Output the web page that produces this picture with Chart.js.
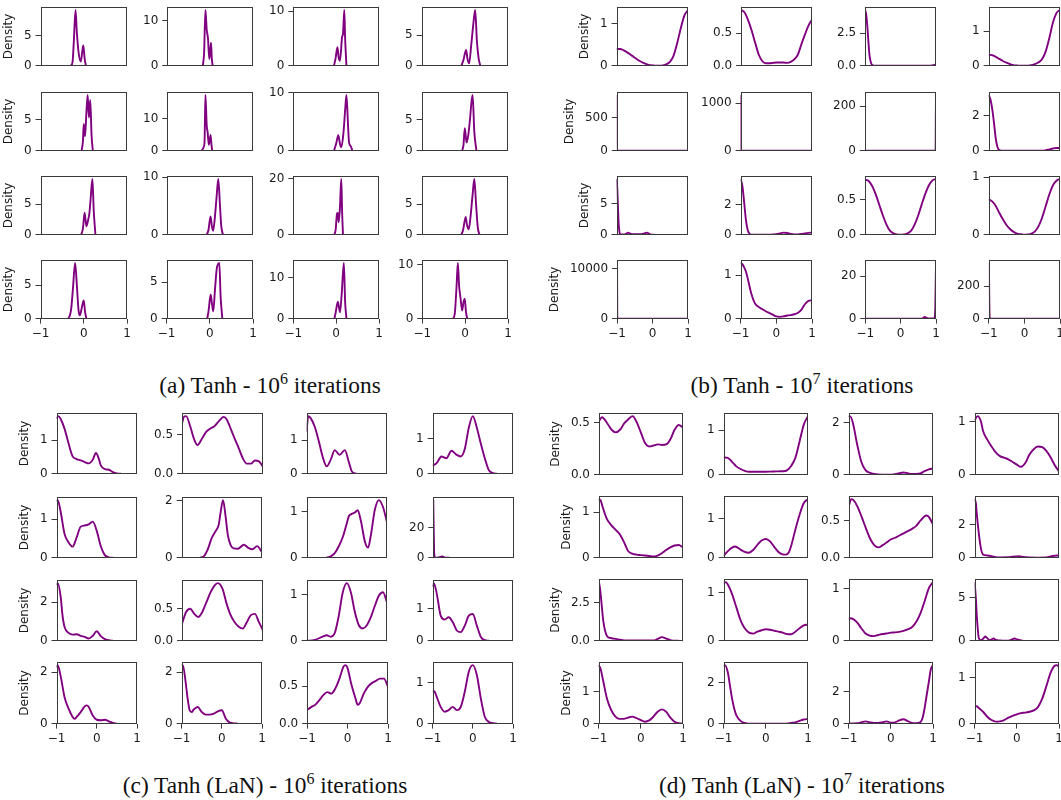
<!DOCTYPE html>
<html>
<head>
<meta charset="utf-8">
<script src="https://cdn.jsdelivr.net/npm/chart.js@4.4.0/dist/chart.umd.min.js"></script>
<style>
  body { margin: 0; background: #fff; width: 1061px; height: 800px; position: relative; overflow: hidden; }
  .cell { position: absolute; }
  .cap { position: absolute; font-family: 'Liberation Serif', 'Times New Roman', serif; font-size: 23.4px;
         line-height: 23.4px; white-space: nowrap; transform: translateX(-50%); color: #111; }
  .cap sup { font-size: 16px; vertical-align: baseline; position: relative; top: -9px; }
</style>
</head>
<body>
<script>
// x positions for curves written as plain lists of 21 densities
const GRID = [-1,-0.9,-0.8,-0.7,-0.6,-0.5,-0.4,-0.3,-0.2,-0.1,0,0.1,0.2,0.3,0.4,0.5,0.6,0.7,0.8,0.9,1];
const X_TICKS = [-1, 0, 1];

// (a) Tanh - 1e6 iterations, row by row
const A_CURVES = [
  [[-0.3,0],[-0.26,0.6],[-0.23,4],[-0.19,9.2],[-0.16,5.5],[-0.12,2.2],[-0.07,0.7],[-0.03,2.6],[-0.01,3.35],[0.02,1.2],[0.05,0]],
  [[-0.17,0],[-0.14,3],[-0.11,12.3],[-0.08,8],[-0.05,6],[-0.02,1.5],[0,3],[0.02,5.1],[0.04,1.5],[0.06,0]],
  [[-0.05,0],[-0.01,1.5],[0.03,3.4],[0.06,1.5],[0.09,0.9],[0.14,5.3],[0.16,5.8],[0.19,10.2],[0.21,5],[0.24,0]],
  [[-0.08,0],[-0.03,1],[0.03,2.6],[0.06,1.2],[0.1,0.4],[0.15,3.5],[0.2,7],[0.24,9.1],[0.28,4],[0.32,1.2],[0.36,0]],
  [[-0.05,0],[-0.02,1.5],[0,4.3],[0.03,2.3],[0.06,6],[0.09,8.9],[0.12,5.3],[0.15,8.1],[0.18,2.5],[0.21,0]],
  [[-0.2,0],[-0.15,1.2],[-0.13,3],[-0.11,17.5],[-0.08,8],[-0.06,6],[-0.03,1.9],[0.01,5],[0.03,2],[0.05,0]],
  [[-0.05,0],[0,1.2],[0.05,2.7],[0.09,1.2],[0.12,0.6],[0.17,3],[0.21,7],[0.24,9.6],[0.28,4],[0.3,1.5],[0.34,0.8],[0.38,0]],
  [[-0.06,0],[-0.03,1],[0,3.6],[0.04,1.3],[0.08,2.5],[0.12,5],[0.15,7.5],[0.18,8.9],[0.22,3],[0.27,0]],
  [[-0.06,0],[-0.02,1],[0.02,3.6],[0.06,1.4],[0.1,2.4],[0.13,3.5],[0.16,6],[0.2,9.1],[0.23,4],[0.27,0]],
  [[-0.08,0],[-0.04,0.8],[0.01,3.2],[0.04,1.5],[0.07,0.7],[0.11,3],[0.15,6.5],[0.19,9.7],[0.23,5],[0.26,1.5],[0.3,0]],
  [[-0.04,0],[-0.01,2],[0.02,7.5],[0.04,7.8],[0.06,4.5],[0.09,10],[0.12,20],[0.14,8],[0.16,0]],
  [[-0.08,0],[-0.04,0.8],[0.02,2.9],[0.05,1.6],[0.09,0.9],[0.13,2.8],[0.18,6.5],[0.22,9.1],[0.26,5],[0.3,1.2],[0.34,0]],
  [[-0.36,0],[-0.32,0.5],[-0.29,1.5],[-0.25,4.5],[-0.2,8.3],[-0.16,5],[-0.12,1.2],[-0.09,0.5],[-0.04,1.8],[0,2.7],[0.03,1],[0.06,0]],
  [[-0.06,0],[-0.03,1],[0.02,3.3],[0.05,2],[0.08,1],[0.12,4],[0.16,6.8],[0.22,7.6],[0.25,3],[0.29,0]],
  [[-0.04,0],[-0.01,1.5],[0.04,4.1],[0.07,2.5],[0.09,1.5],[0.13,6],[0.18,13.5],[0.21,4],[0.24,0]],
  [[-0.28,0],[-0.24,1],[-0.2,6],[-0.17,10.3],[-0.14,6],[-0.11,4],[-0.07,1.5],[-0.04,3],[-0.01,3.7],[0.02,1.2],[0.05,0]]
];
const A_STEPS = [5,10,10,5, 5,10,10,5, 5,10,20,5, 5,5,10,10];

// (b) Tanh - 1e7 iterations
const B_CURVES = [
  [0.40,0.40,0.37,0.32,0.26,0.20,0.14,0.09,0.05,0.02,0.01,0,0,0.01,0.04,0.1,0.25,0.55,0.9,1.2,1.33],
  [0.86,0.82,0.70,0.54,0.35,0.17,0.07,0.04,0.04,0.045,0.05,0.05,0.05,0.045,0.06,0.1,0.17,0.33,0.48,0.62,0.71],
  [[-1,4.3],[-0.97,4],[-0.93,2.8],[-0.9,1.6],[-0.87,0.7],[-0.83,0.2],[-0.78,0.03],[-0.7,0],[0.85,0],[0.93,0.04],[1,0.12]],
  [0.32,0.31,0.26,0.2,0.14,0.09,0.05,0.02,0.01,0,0,0.005,0.02,0.05,0.1,0.2,0.42,0.8,1.25,1.53,1.62],
  [[-1,838],[-0.995,200],[-0.99,0],[1,0]],
  [[-1,1170],[-0.995,150],[-0.99,0],[1,0]],
  [[-1,0],[0.99,0],[0.995,150],[1,251]],
  [[-1,3.2],[-0.95,2.95],[-0.9,2.4],[-0.85,1.6],[-0.8,0.7],[-0.75,0.2],[-0.7,0.04],[-0.6,0],[0.5,0],[0.6,0.03],[0.7,0.08],[0.8,0.13],[0.9,0.16],[1,0.16]],
  [[-1,8.9],[-0.98,7.5],[-0.96,4.5],[-0.94,1.8],[-0.92,0.5],[-0.9,0.1],[-0.85,0.05],[-0.75,0.1],[-0.68,0.35],[-0.6,0.15],[-0.5,0.08],[-0.4,0.08],[-0.3,0.1],[-0.2,0.25],[-0.15,0.35],[-0.1,0.2],[-0.05,0.08],[0,0.02],[0.05,0]],
  [[-1,3.67],[-0.95,3.2],[-0.9,2.1],[-0.85,0.95],[-0.8,0.3],[-0.75,0.07],[-0.7,0.01],[-0.5,0],[-0.2,0.01],[0,0.04],[0.1,0.09],[0.2,0.14],[0.3,0.12],[0.4,0.06],[0.5,0.03],[0.6,0.03],[0.7,0.05],[0.8,0.09],[0.9,0.13],[1,0.15]],
  [0.79,0.77,0.7,0.58,0.43,0.28,0.15,0.06,0.02,0.005,0,0.005,0.02,0.06,0.15,0.28,0.44,0.59,0.71,0.78,0.8],
  [0.62,0.58,0.5,0.38,0.27,0.17,0.1,0.05,0.02,0.01,0,0.005,0.02,0.06,0.15,0.3,0.5,0.7,0.86,0.94,0.97],
  [[-1,11200],[-0.995,1000],[-0.99,0],[1,0]],
  [[-1,1.28],[-0.95,1.25],[-0.9,1.18],[-0.85,1.08],[-0.8,0.92],[-0.75,0.74],[-0.7,0.57],[-0.6,0.35],[-0.5,0.27],[-0.4,0.22],[-0.3,0.17],[-0.2,0.13],[-0.1,0.09],[0,0.05],[0.1,0.04],[0.2,0.05],[0.3,0.07],[0.4,0.08],[0.5,0.1],[0.6,0.13],[0.7,0.2],[0.8,0.33],[0.9,0.41],[1,0.42]],
  [[-1,0],[0.6,0],[0.65,0.5],[0.68,0.8],[0.72,0.5],[0.8,0.1],[0.9,0.1],[0.95,0.3],[0.98,5],[1,26.3]],
  [[-1,345],[-0.98,10],[-0.96,0],[1,0]]
];
const B_STEPS = [1,0.5,2.5,1, 500,1000,200,2, 5,2,0.5,1, 10000,1,20,200];

// (c) Tanh (LaN) - 1e6 iterations
const C_CURVES = [
  [[-1,1.64],[-0.96,1.72],[-0.9,1.64],[-0.8,1.34],[-0.7,0.9],[-0.6,0.52],[-0.5,0.44],[-0.4,0.4],[-0.3,0.35],[-0.2,0.31],[-0.1,0.42],[-0.02,0.62],[0.05,0.45],[0.1,0.25],[0.2,0.14],[0.3,0.12],[0.4,0.05],[0.5,0.01],[0.6,0]],
  [[-1,0.65],[-0.95,0.735],[-0.9,0.74],[-0.8,0.61],[-0.7,0.44],[-0.62,0.37],[-0.5,0.46],[-0.4,0.54],[-0.3,0.58],[-0.2,0.61],[-0.1,0.67],[0.03,0.73],[0.1,0.7],[0.2,0.58],[0.3,0.45],[0.4,0.33],[0.5,0.2],[0.6,0.13],[0.7,0.13],[0.8,0.17],[0.9,0.16],[1,0.09]],
  [[-1,1.25],[-0.96,1.71],[-0.9,1.65],[-0.8,1.4],[-0.7,0.98],[-0.6,0.5],[-0.5,0.22],[-0.4,0.42],[-0.3,0.7],[-0.18,0.56],[-0.05,0.7],[0.05,0.35],[0.12,0.08],[0.2,0.01],[0.25,0]],
  [[-1,0.23],[-0.9,0.3],[-0.78,0.49],[-0.66,0.44],[-0.53,0.65],[-0.42,0.55],[-0.3,0.49],[-0.2,0.7],[-0.1,1.3],[0,1.63],[0.1,1.3],[0.2,0.85],[0.3,0.43],[0.4,0.1],[0.5,0.02],[0.6,0]],
  [[-1,1.47],[-0.97,1.5],[-0.9,1.21],[-0.8,0.62],[-0.7,0.4],[-0.6,0.29],[-0.5,0.53],[-0.4,0.81],[-0.3,0.84],[-0.2,0.87],[-0.1,0.94],[0,0.7],[0.1,0.3],[0.2,0.07],[0.3,0.01],[0.4,0]],
  [[-0.55,0],[-0.45,0.05],[-0.35,0.3],[-0.25,0.7],[-0.15,0.95],[-0.08,1.15],[-0.03,1.6],[0.03,2.03],[0.09,1.5],[0.15,0.8],[0.22,0.45],[0.3,0.33],[0.4,0.32],[0.55,0.46],[0.65,0.36],[0.76,0.3],[0.88,0.41],[1,0.2]],
  [[-0.52,0],[-0.4,0.03],[-0.3,0.1],[-0.2,0.25],[-0.1,0.45],[0,0.75],[0.05,0.9],[0.1,0.94],[0.2,0.98],[0.27,1.03],[0.35,0.8],[0.45,0.35],[0.53,0.22],[0.6,0.5],[0.7,1.05],[0.8,1.25],[0.9,1.1],[1,0.77]],
  [[-1,38],[-0.98,5],[-0.96,0.3],[-0.9,0.1],[-0.82,0.6],[-0.77,0.9],[-0.72,0.2],[-0.6,0]],
  [[-1,2.9],[-0.97,3],[-0.9,2.34],[-0.85,1.3],[-0.8,0.72],[-0.7,0.41],[-0.6,0.32],[-0.5,0.34],[-0.4,0.26],[-0.3,0.2],[-0.2,0.12],[-0.1,0.26],[0,0.5],[0.1,0.24],[0.2,0.09],[0.3,0.03],[0.4,0]],
  [[-1,0.27],[-0.9,0.45],[-0.8,0.5],[-0.7,0.42],[-0.6,0.37],[-0.5,0.45],[-0.4,0.6],[-0.3,0.75],[-0.2,0.86],[-0.12,0.9],[0,0.81],[0.1,0.58],[0.2,0.4],[0.3,0.29],[0.4,0.22],[0.5,0.19],[0.6,0.29],[0.7,0.4],[0.8,0.42],[0.9,0.29],[1,0.16]],
  [[-1,0],[-0.8,0.02],[-0.6,0.09],[-0.5,0.12],[-0.4,0.09],[-0.3,0.17],[-0.2,0.55],[-0.1,1.06],[0,1.26],[0.1,1.06],[0.2,0.63],[0.3,0.34],[0.4,0.27],[0.5,0.34],[0.6,0.52],[0.7,0.77],[0.8,0.99],[0.9,1.06],[1,0.84]],
  [[-1,1.67],[-0.97,1.79],[-0.9,1.48],[-0.8,0.78],[-0.7,0.66],[-0.6,0.73],[-0.5,0.58],[-0.4,0.32],[-0.3,0.27],[-0.2,0.47],[-0.1,0.78],[0,0.83],[0.1,0.47],[0.2,0.12],[0.3,0.02],[0.4,0]],
  [[-1,2.19],[-0.97,2.28],[-0.9,1.87],[-0.8,1.03],[-0.7,0.58],[-0.6,0.26],[-0.55,0.19],[-0.5,0.26],[-0.4,0.45],[-0.3,0.67],[-0.25,0.71],[-0.2,0.65],[-0.1,0.32],[0,0.15],[0.1,0.13],[0.2,0.15],[0.3,0.09],[0.4,0.03],[0.5,0]],
  [[-1,2.26],[-0.97,2.28],[-0.9,1.61],[-0.85,0.97],[-0.8,0.52],[-0.75,0.45],[-0.7,0.55],[-0.6,0.65],[-0.5,0.45],[-0.4,0.35],[-0.3,0.35],[-0.2,0.39],[-0.1,0.48],[0,0.52],[0.1,0.19],[0.2,0.04],[0.3,0.01],[0.4,0]],
  [[-1,0.18],[-0.9,0.22],[-0.8,0.25],[-0.7,0.31],[-0.6,0.38],[-0.5,0.42],[-0.4,0.4],[-0.3,0.47],[-0.2,0.6],[-0.1,0.76],[-0.05,0.78],[0,0.74],[0.1,0.51],[0.2,0.33],[0.25,0.25],[0.3,0.27],[0.4,0.4],[0.5,0.49],[0.6,0.54],[0.7,0.57],[0.8,0.6],[0.9,0.6],[1,0.49]],
  [[-1,0.8],[-0.95,0.78],[-0.9,0.66],[-0.8,0.41],[-0.7,0.29],[-0.6,0.33],[-0.5,0.41],[-0.4,0.33],[-0.3,0.41],[-0.2,0.78],[-0.1,1.27],[0,1.43],[0.1,1.19],[0.2,0.61],[0.3,0.16],[0.4,0.04],[0.5,0.01],[0.6,0]]
];
const C_STEPS = [1,0.5,1,1, 1,2,1,20, 2,0.5,1,1, 2,2,0.5,1];

// (d) Tanh (LaN) - 1e7 iterations
const D_CURVES = [
  [[-1,0.51],[-0.93,0.55],[-0.8,0.49],[-0.7,0.43],[-0.6,0.405],[-0.5,0.43],[-0.4,0.49],[-0.3,0.53],[-0.2,0.56],[-0.1,0.5],[0,0.4],[0.1,0.3],[0.2,0.27],[0.3,0.28],[0.4,0.29],[0.5,0.285],[0.6,0.29],[0.7,0.34],[0.8,0.43],[0.9,0.475],[1,0.45]],
  [0.39,0.38,0.29,0.19,0.13,0.09,0.07,0.07,0.07,0.07,0.07,0.072,0.075,0.078,0.08,0.1,0.2,0.38,0.75,1.13,1.32],
  [[-1,2.21],[-0.97,2.25],[-0.9,2],[-0.8,1.18],[-0.7,0.5],[-0.6,0.18],[-0.5,0.08],[-0.4,0.03],[-0.3,0.01],[-0.1,0],[0,0.005],[0.1,0.02],[0.2,0.06],[0.3,0.09],[0.4,0.06],[0.5,0.03],[0.6,0.03],[0.7,0.05],[0.8,0.14],[0.9,0.21],[1,0.24]],
  [[-1,1.02],[-0.93,1.1],[-0.85,1],[-0.8,0.82],[-0.7,0.66],[-0.6,0.53],[-0.5,0.42],[-0.4,0.35],[-0.3,0.32],[-0.2,0.29],[-0.1,0.24],[0,0.19],[0.1,0.15],[0.2,0.22],[0.3,0.38],[0.4,0.48],[0.5,0.53],[0.6,0.52],[0.7,0.45],[0.8,0.33],[0.9,0.18],[1,0.06]],
  [[-1,1.29],[-0.95,1.26],[-0.9,1.11],[-0.8,0.85],[-0.7,0.72],[-0.6,0.62],[-0.5,0.52],[-0.4,0.35],[-0.3,0.15],[-0.2,0.09],[-0.1,0.07],[0,0.06],[0.1,0.05],[0.2,0.04],[0.3,0.03],[0.4,0.05],[0.5,0.1],[0.6,0.17],[0.7,0.23],[0.8,0.27],[0.9,0.28],[1,0.23]],
  [[-1,0.05],[-0.9,0.17],[-0.8,0.26],[-0.73,0.29],[-0.6,0.21],[-0.5,0.15],[-0.4,0.13],[-0.3,0.2],[-0.2,0.33],[-0.1,0.44],[0,0.48],[0.1,0.42],[0.2,0.28],[0.3,0.15],[0.4,0.09],[0.47,0.08],[0.55,0.15],[0.6,0.3],[0.7,0.72],[0.8,1.1],[0.9,1.4],[1,1.5]],
  [[-1,0.71],[-0.95,0.79],[-0.9,0.78],[-0.8,0.69],[-0.7,0.55],[-0.6,0.4],[-0.5,0.26],[-0.4,0.17],[-0.3,0.14],[-0.2,0.17],[-0.1,0.21],[0,0.25],[0.1,0.27],[0.2,0.3],[0.3,0.33],[0.4,0.36],[0.5,0.39],[0.6,0.43],[0.7,0.5],[0.8,0.56],[0.85,0.57],[0.9,0.55],[1,0.45]],
  [[-1,3.52],[-0.97,3.27],[-0.95,2.67],[-0.9,1.45],[-0.85,0.55],[-0.8,0.2],[-0.7,0.14],[-0.6,0.1],[-0.5,0.04],[-0.4,0.02],[-0.2,0.03],[-0.1,0.07],[0.05,0.1],[0.15,0.05],[0.3,0.02],[0.5,0.01],[0.7,0.02],[0.8,0.08],[0.9,0.12],[1,0.14]],
  [[-1,3.87],[-0.97,3.33],[-0.95,2.78],[-0.9,1.37],[-0.85,0.61],[-0.8,0.28],[-0.7,0.17],[-0.6,0.13],[-0.5,0.07],[-0.4,0.02],[0.3,0.02],[0.4,0.13],[0.5,0.24],[0.6,0.15],[0.7,0.04],[0.8,0],[0.9,0]],
  [[-1,1.19],[-0.95,1.22],[-0.9,1.17],[-0.8,0.97],[-0.7,0.7],[-0.6,0.43],[-0.5,0.26],[-0.4,0.17],[-0.3,0.15],[-0.2,0.19],[-0.1,0.22],[0,0.24],[0.1,0.23],[0.2,0.21],[0.3,0.19],[0.4,0.17],[0.5,0.14],[0.6,0.135],[0.7,0.19],[0.8,0.26],[0.9,0.32],[1,0.34]],
  [[-1,0.41],[-0.95,0.43],[-0.9,0.42],[-0.8,0.35],[-0.7,0.24],[-0.6,0.14],[-0.5,0.1],[-0.4,0.09],[-0.3,0.11],[-0.2,0.13],[-0.1,0.14],[0,0.155],[0.1,0.16],[0.2,0.17],[0.3,0.19],[0.4,0.22],[0.5,0.26],[0.6,0.36],[0.7,0.52],[0.8,0.75],[0.9,1],[1,1.12]],
  [[-1,6.85],[-0.97,4.9],[-0.95,3],[-0.92,1.08],[-0.9,0.3],[-0.85,0.08],[-0.8,0.23],[-0.75,0.5],[-0.7,0.31],[-0.65,0.08],[-0.6,0.15],[-0.55,0.27],[-0.5,0.12],[-0.4,0.04],[-0.3,0],[-0.2,0.01],[-0.1,0.19],[-0.05,0.27],[0,0.15],[0.1,0.04],[0.15,0]],
  [[-1,1.85],[-0.95,1.73],[-0.9,1.42],[-0.8,0.79],[-0.7,0.43],[-0.6,0.22],[-0.5,0.15],[-0.4,0.15],[-0.3,0.19],[-0.2,0.22],[-0.1,0.17],[0,0.11],[0.1,0.06],[0.2,0.1],[0.3,0.22],[0.4,0.375],[0.5,0.45],[0.6,0.375],[0.7,0.19],[0.8,0.06],[0.9,0.01],[1,0]],
  [[-1,2.79],[-0.97,2.84],[-0.9,2.48],[-0.85,1.84],[-0.8,1.21],[-0.75,0.73],[-0.7,0.41],[-0.6,0.13],[-0.5,0.03],[-0.4,0],[0.5,0],[0.6,0.03],[0.7,0.06],[0.8,0.13],[0.9,0.2],[1,0.22]],
  [[-1,0],[-0.8,0.02],[-0.7,0.08],[-0.6,0.14],[-0.5,0.08],[-0.4,0.04],[-0.3,0.04],[-0.2,0.08],[-0.1,0.14],[0,0.06],[0.1,0.08],[0.2,0.2],[0.3,0.27],[0.4,0.16],[0.5,0.04],[0.6,0.02],[0.7,0.08],[0.75,0.33],[0.8,0.94],[0.85,1.76],[0.9,2.57],[0.95,3.39],[1,3.63]],
  [[-1,0.36],[-0.95,0.38],[-0.9,0.34],[-0.8,0.26],[-0.7,0.15],[-0.6,0.078],[-0.5,0.043],[-0.4,0.05],[-0.3,0.078],[-0.2,0.13],[-0.1,0.17],[0,0.2],[0.1,0.23],[0.2,0.24],[0.3,0.26],[0.4,0.29],[0.5,0.36],[0.6,0.54],[0.7,0.82],[0.8,1.11],[0.9,1.27],[0.95,1.28],[1,1.24]]
];
const D_STEPS = [0.5,1,2,1, 1,1,0.5,2, 2.5,1,1,5, 1,2,2,1];

const CAPTIONS = [
  '(a) Tanh - 10<sup>6</sup> iterations',
  '(b) Tanh - 10<sup>7</sup> iterations',
  '(c) Tanh (LaN) - 10<sup>6</sup> iterations',
  '(d) Tanh (LaN) - 10<sup>7</sup> iterations'
];

// page layout: plot-area corners of each 4x4 grid, caption anchor
const PANELS = [
  { curves: A_CURVES, steps: A_STEPS, cols: [41,167,293,422], rows: [7,92,176,260], w: 86, h: 58.5, cap: [270,374] },
  { curves: B_CURVES, steps: B_STEPS, cols: [617,741,865,989], rows: [7,92,176,260], w: 71, h: 58.5, cap: [802,374] },
  { curves: C_CURVES, steps: C_STEPS, cols: [57,182,307,433], rows: [413,497,580,662], w: 80.5, h: 61, cap: [265,774] },
  { curves: D_CURVES, steps: D_STEPS, cols: [599,724,849,975], rows: [413,496,579,662], w: 84, h: 61.5, cap: [802,774] }
];

const PURPLE = '#800080';
const SPINE = '#3a3a3a';
const INK = '#1a1a1a';

Chart.defaults.font.family = "'DejaVu Sans', sans-serif";
Chart.defaults.font.size = 12;

const frame = {
  id: 'frame',
  afterDatasetsDraw(c) {
    const { ctx, chartArea: a } = c;
    ctx.save();
    ctx.strokeStyle = SPINE;
    ctx.lineWidth = 1;
    const l = Math.round(a.left) + 0.5, t = Math.round(a.top) + 0.5;
    const r = Math.round(a.right) - 0.5, b = Math.round(a.bottom) - 0.5;
    ctx.strokeRect(l, t, r - l, b - t);
    ctx.restore();
  }
};

function points(c) {
  return typeof c[0] === 'number' ? c.map((y, i) => ({ x: GRID[i], y })) : c.map(([x, y]) => ({ x, y }));
}

function config(data, step, showTitle, bottom) {
  const ymax = 1.05 * Math.max(...data.map(p => p.y));
  const dec = step % 1 ? 1 : 0;
  const yticks = [];
  for (let v = 0; v <= ymax + 1e-9; v += step) yticks.push(v);
  return {
    type: 'line',
    data: { datasets: [{ data, borderColor: PURPLE, borderWidth: 1.9, pointRadius: 0,
                         cubicInterpolationMode: 'monotone', clip: 0 }] },
    options: {
      responsive: false, animation: false, devicePixelRatio: 1,
      layout: { padding: { top: 4, right: 8, left: 0, bottom: 0 } },
      plugins: { legend: { display: false }, tooltip: { enabled: false } },
      scales: {
        x: {
          type: 'linear', min: -1, max: 1,
          afterBuildTicks: s => { s.ticks = X_TICKS.map(v => ({ value: v })); },
          border: { display: false },
          grid: { drawOnChartArea: false, drawTicks: bottom, tickLength: 5, color: SPINE },
          ticks: { display: bottom, padding: 3, color: INK, maxRotation: 0, autoSkip: false,
                   callback: v => v < 0 ? '\u2212' + Math.abs(v) : String(v) }
        },
        y: {
          type: 'linear', min: 0, max: ymax,
          afterBuildTicks: s => { s.ticks = yticks.map(v => ({ value: v })); },
          border: { display: false },
          grid: { drawOnChartArea: false, tickLength: 5, color: SPINE },
          ticks: { padding: 4, color: INK, callback: v => Number(v).toFixed(dec) },
          title: { display: showTitle, text: 'Density', color: INK,
                   padding: { top: 0, bottom: 3.5 } }
        }
      }
    },
    plugins: [frame]
  };
}

function makeCanvas(wrap, W, H) {
  wrap.innerHTML = '';
  const cv = document.createElement('canvas');
  cv.width = W; cv.height = H;
  cv.style.width = W + 'px'; cv.style.height = H + 'px';
  wrap.appendChild(cv);
  return cv;
}

PANELS.forEach((p, pi) => {
  p.curves.forEach((curve, k) => {
    const row = Math.floor(k / 4), col = k % 4;
    const data = points(curve);
    const wrap = document.createElement('div');
    wrap.className = 'cell';
    document.body.appendChild(wrap);
    // first pass measures the space the axes take, second pass sizes the canvas to the plot box
    let W = Math.round(p.w) + 110, H = Math.round(p.h) + 45;
    let ch = new Chart(makeCanvas(wrap, W, H), config(data, p.steps[k], col === 0, row === 3));
    let a = ch.chartArea;
    W = Math.round(W - (a.right - a.left) + p.w);
    H = Math.round(H - (a.bottom - a.top) + p.h);
    ch.destroy();
    ch = new Chart(makeCanvas(wrap, W, H), config(data, p.steps[k], col === 0, row === 3));
    a = ch.chartArea;
    wrap.style.left = Math.round(p.cols[col] - a.left) + 'px';
    wrap.style.top = Math.round(p.rows[row] - a.top) + 'px';
  });
  const cap = document.createElement('div');
  cap.className = 'cap';
  cap.innerHTML = CAPTIONS[pi];
  cap.style.left = p.cap[0] + 'px';
  cap.style.top = p.cap[1] + 'px';
  document.body.appendChild(cap);
});
</script>
</body>
</html>
